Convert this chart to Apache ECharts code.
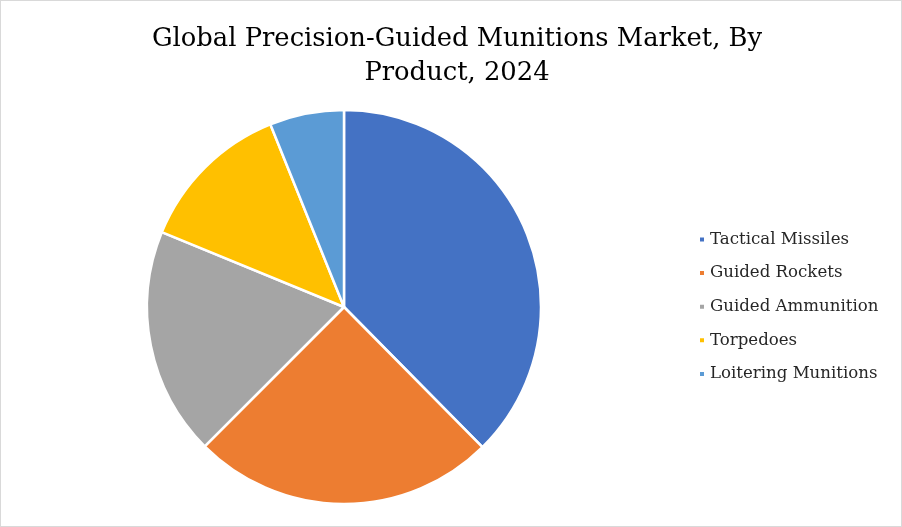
<!DOCTYPE html>
<html>
<head>
<meta charset="utf-8">
<script src="https://cdn.jsdelivr.net/npm/echarts@6/dist/echarts.min.js"></script>
<style>
  html, body { margin: 0; padding: 0; background: #fff; }
  #main { width: 900px; height: 525px; border: 1px solid #d9d9d9; }
</style>
</head>
<body>
<div id="main"></div>
<script>
// chart data
var categories = ['Tactical Missiles', 'Guided Rockets', 'Guided Ammunition', 'Torpedoes', 'Loitering Munitions'];
var shares = [37.6, 24.9, 18.7, 12.7, 6.1];
var colors = ['#4472c4', '#ed7d31', '#a5a5a5', '#ffc000', '#5b9bd5'];

var chart = echarts.init(document.getElementById('main'));

var option = {
    color: colors,
    title: {
        text: 'Global Precision-Guided Munitions Market, By\nProduct, 2024',
        left: 451,
        top: 16,
        textAlign: 'center',
        textStyle: {
            fontFamily: 'DejaVu Serif',
            fontSize: 25.8,
            fontWeight: 'normal',
            color: '#000',
            lineHeight: 34
        }
    },
    legend: {
        orient: 'vertical',
        left: 692,
        top: 225,
        itemWidth: 6,
        itemHeight: 6,
        icon: 'rect',
        itemGap: 16.6,
        textStyle: {
            fontFamily: 'DejaVu Serif',
            fontSize: 16.6,
            color: '#262626'
        },
        data: categories
    },
    series: [{
        type: 'pie',
        center: [343, 306],
        radius: 197,
        startAngle: 90,
        clockwise: true,
        label: { show: false },
        labelLine: { show: false },
        itemStyle: { borderColor: '#fff', borderWidth: 2.5 },
        emphasis: { disabled: true },
        animation: false,
        data: categories.map(function (c, i) {
            return { name: c, value: shares[i] };
        })
    }]
};

chart.setOption(option);
</script>
</body>
</html>
